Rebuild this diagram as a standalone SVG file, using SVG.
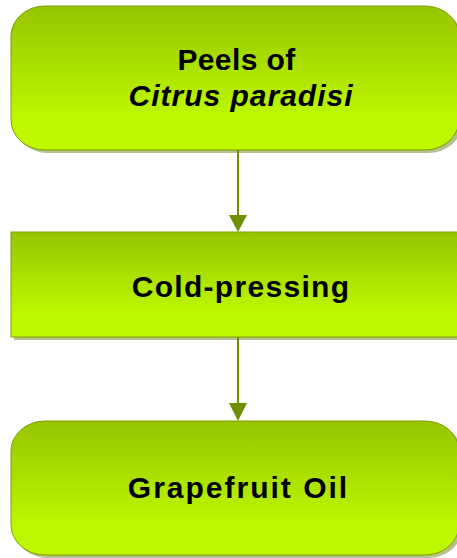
<svg xmlns="http://www.w3.org/2000/svg" width="457" height="558" viewBox="0 0 457 558">
<defs>
<linearGradient id="g" x1="0" y1="0" x2="0" y2="1">
<stop offset="0" stop-color="#96c500"/>
<stop offset="0.75" stop-color="#bcf600"/>
<stop offset="1" stop-color="#bff900"/>
</linearGradient>
</defs>
<style>
.box{fill:url(#g);stroke:#7f9f00;stroke-width:1}
.sh{fill:#8fa050;opacity:0.65}
.t{font-family:"Liberation Sans",Arial,sans-serif;font-weight:bold;font-size:30px;fill:#000;text-anchor:middle}
.c{stroke:#6e8f00;stroke-width:2;fill:none}
.h{fill:#6e8f00}
</style>
<g id="node1">
<rect class="sh" x="14" y="9" width="448" height="144" rx="34" ry="30"/>
<rect class="box" x="11" y="6" width="448" height="144" rx="34" ry="30"/>
<text class="t" x="236.5" y="70" letter-spacing="0.4">Peels of</text>
<text class="t" x="241" y="106" font-style="italic" letter-spacing="1">Citrus paradisi</text>
</g>
<g id="node2">
<rect class="sh" x="14" y="235" width="448" height="105"/>
<rect class="box" x="11" y="232" width="448" height="105"/>
<text class="t" x="241" y="297" letter-spacing="1.3">Cold-pressing</text>
</g>
<g id="node3">
<rect class="sh" x="14" y="424" width="448" height="134" rx="34" ry="30"/>
<rect class="box" x="11" y="421" width="448" height="134" rx="34" ry="30"/>
<text class="t" x="238.5" y="498" letter-spacing="2">Grapefruit Oil</text>
</g>
<g id="connectors">
<line class="c" x1="238" y1="150" x2="238" y2="216"/>
<polygon class="h" points="229,215 247,215 238,232"/>
<line class="c" x1="238" y1="337" x2="238" y2="404"/>
<polygon class="h" points="229,403 247,403 238,421"/>
</g>
</svg>
